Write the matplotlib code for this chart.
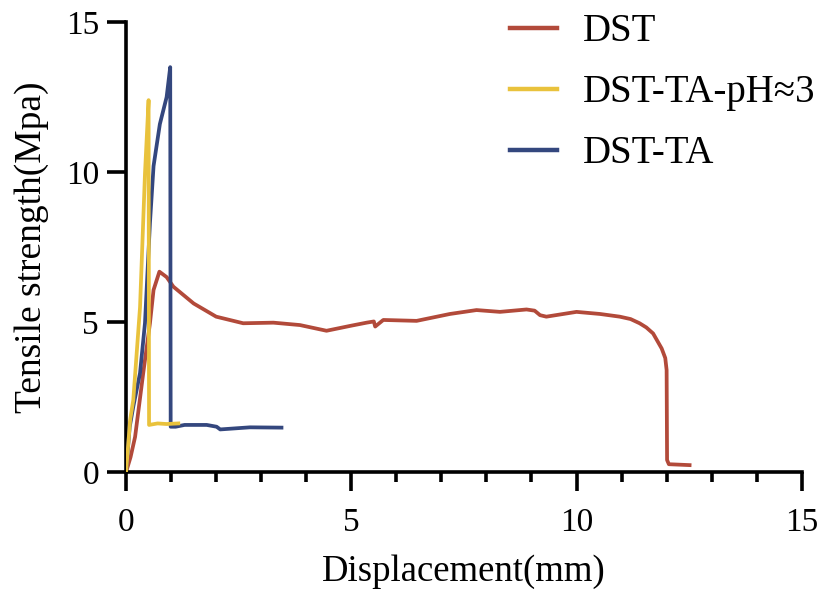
import matplotlib
matplotlib.use("Agg")
import matplotlib.pyplot as plt
from matplotlib.ticker import MultipleLocator

plt.rcParams['font.family'] = ['Liberation Serif', 'DejaVu Serif']

# DST
dst_x = [0, 0.1, 0.2, 0.38, 0.53, 0.61, 0.74, 0.9, 1.05, 1.5, 2.0, 2.6, 3.27, 3.86, 4.45,
         5.0, 5.34, 5.5, 5.53, 5.71, 6.45, 7.19, 7.78, 8.3, 8.89, 9.07, 9.19, 9.33, 10.0,
         10.52, 10.96, 11.2, 11.4, 11.55, 11.7, 11.89, 11.97, 12.0, 12.01, 12.05, 12.51]
dst_y = [0, 0.5, 1.17, 3.29, 4.96, 6.07, 6.68, 6.5, 6.18, 5.62, 5.18, 4.96, 4.98, 4.9, 4.71,
         4.88, 4.98, 5.02, 4.85, 5.07, 5.04, 5.27, 5.4, 5.34, 5.42, 5.38, 5.23, 5.18, 5.34,
         5.27, 5.18, 5.1, 4.96, 4.82, 4.62, 4.12, 3.8, 3.4, 0.4, 0.26, 0.23]

# DST-TA-pH≈3
ph_x = [0, 0.09, 0.16, 0.31, 0.42, 0.5, 0.51, 0.7, 0.9, 1.16]
ph_y = [0, 1.73, 2.4, 5.5, 9.96, 12.4, 1.57, 1.62, 1.6, 1.62]

# DST-TA
ta_x = [0, 0.08, 0.16, 0.31, 0.42, 0.53, 0.61, 0.75, 0.9, 0.98, 0.99, 1.1, 1.3, 1.79,
        2.01, 2.09, 2.75, 3.45]
ta_y = [0, 1.5, 2.18, 3.3, 4.97, 8.3, 10.2, 11.6, 12.5, 13.5, 1.51, 1.51, 1.57, 1.57,
        1.51, 1.42, 1.49, 1.48]

labels = ["DST", "DST-TA-pH≈3", "DST-TA"]
colors = ["#B24A3A", "#E9C23C", "#34477E"]

fig = plt.figure(figsize=(8.24, 5.99), dpi=100)
ax = fig.add_axes([0.153, 0.212, 0.82, 0.751])

l1, = ax.plot(dst_x, dst_y, color=colors[0], lw=2.7, zorder=2, label=labels[0])
l3, = ax.plot(ta_x, ta_y, color=colors[2], lw=2.7, zorder=3, label=labels[2])
l2, = ax.plot(ph_x, ph_y, color=colors[1], lw=2.7, zorder=4, label=labels[1])

ax.set_xlim(0, 15)
ax.set_ylim(0, 15)
ax.xaxis.set_major_locator(MultipleLocator(5))
ax.xaxis.set_minor_locator(MultipleLocator(1))
ax.yaxis.set_major_locator(MultipleLocator(5))

for s in ['top', 'right']:
    ax.spines[s].set_visible(False)
for s in ['left', 'bottom']:
    ax.spines[s].set_linewidth(2.6)

ax.tick_params(axis='both', which='major', length=13.5, width=2.6, labelsize=24, direction='out')
ax.tick_params(axis='x', which='major', pad=12)
ax.tick_params(axis='y', which='major', pad=6)
ax.tick_params(axis='x', which='minor', length=7, width=2.6)

ax.set_xlabel("Displacement(mm)", fontsize=26.5, labelpad=12)
ax.set_ylabel("Tensile strength(Mpa)", fontsize=27, labelpad=12)

leg = fig.legend(handles=[l1, l2, l3], labels=labels, loc='upper left',
                 bbox_to_anchor=(0.619, 0.978), frameon=False, fontsize=28,
                 handlelength=1.2, handletextpad=0.67, labelspacing=0.62,
                 borderaxespad=0, borderpad=0)
for h in leg.get_lines():
    h.set_linewidth(3.2)

fig.savefig("out.png", dpi=100)
